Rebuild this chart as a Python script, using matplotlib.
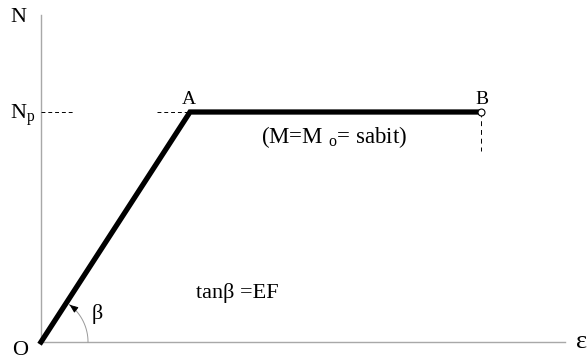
#!/usr/bin/env python3
import numpy as np
import matplotlib
matplotlib.use("Agg")
import matplotlib.pyplot as plt

# N-epsilon curve: O -> A (elastic) -> B (plastic, N = Np)
point_labels = ["O", "A", "B"]
eps_values = [0.0, 1.0, 2.95]
n_values = [0.0, 1.0, 1.0]
n_p = 1.0

plt.rcParams["font.family"] = ["Liberation Serif", "DejaVu Serif"]
plt.rcParams["mathtext.fontset"] = "custom"
plt.rcParams["mathtext.rm"] = "Liberation Serif"
plt.rcParams["mathtext.it"] = "Liberation Serif"

fig = plt.figure(figsize=(5.87, 3.61), dpi=100)
ax = fig.add_axes([0, 0, 1, 1])
ax.set_xlim(-0.2752, 3.6644)
ax.set_ylim(-0.0826, 1.487)
ax.axis("off")

axis_color = "#a8a8a8"
ax.plot([0, 0], [0, 1.42], color=axis_color, lw=1.0)
ax.plot([0, 3.517], [0, 0], color=axis_color, lw=1.0)

# guide lines
ax.plot([0, 0.23], [n_p, n_p], color="black", lw=0.7, ls=(0, (4, 3)))
ax.plot([-0.22 + eps_values[1], eps_values[1]], [n_p, n_p], color="black", lw=0.7, ls=(0, (4, 3)))
ax.plot([eps_values[2], eps_values[2]], [n_p, 0.83], color="black", lw=0.7, ls=(0, (5, 4)))

# main curve
ax.plot(eps_values, n_values, color="black", lw=3.8, solid_joinstyle="miter", zorder=3)
ax.plot(eps_values[2], n_values[2], marker="o", ms=5, mfc="white", mec="black", mew=0.8, zorder=4)

# beta arc, drawn in pixel-like units and converted back to data units
px_x, px_y = 149.0, 230.0
ang = np.arctan2(n_values[1] * px_y, eps_values[1] * px_x)
r = 47.0
t = np.linspace(0, ang - 0.12, 50)
ax.plot(r * np.cos(t) / px_x, r * np.sin(t) / px_y, color="#999999", lw=0.7)
ax.annotate("", xy=(r * np.cos(ang - 0.02) / px_x, r * np.sin(ang - 0.02) / px_y),
            xytext=(r * np.cos(ang - 0.14) / px_x, r * np.sin(ang - 0.14) / px_y),
            arrowprops=dict(arrowstyle="-|>,head_length=0.5,head_width=0.2",
                            color="black", lw=0.7))

fs = 16
ax.text(-0.15, 1.41, "N", fontsize=fs, ha="center", va="center")
ax.text(-0.12, n_p - 0.015, r"N$_\mathrm{p}$", fontsize=fs, ha="center", va="center")
ax.text(-0.14, -0.035, point_labels[0], fontsize=fs, ha="center", va="center")
ax.text(eps_values[1] - 0.01, n_p + 0.055, point_labels[1], fontsize=14, ha="center", va="center")
ax.text(eps_values[2] + 0.01, n_p + 0.055, point_labels[2], fontsize=14, ha="center", va="center")
ax.text(3.665, 0.0, "ε", fontsize=19, ha="right", va="center")
ax.text(0.38, 0.12, "β", fontsize=16, ha="center", va="center")
ax.text(1.97, 0.89, "(M=M $_\\mathrm{o}$= sabit)", fontsize=16.5, ha="center", va="center")
ax.text(1.32, 0.215, "tanβ =EF", fontsize=16, ha="center", va="center")

fig.savefig("out.png", dpi=100)
